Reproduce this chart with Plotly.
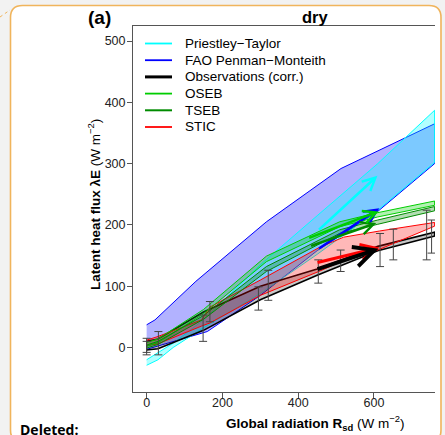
import plotly.graph_objects as go

# ---------------- data ----------------
fao_x = [0, 22, 130, 316, 513, 760]
fao_upper = [37, 45, 108, 205, 292, 365]
fao_lx = [0, 30, 160, 300, 450, 610, 760]
fao_lower = [-3, 2, 26, 85, 158, 222, 300]

pt_x = [0, 30, 70, 150, 300, 450, 610, 760]
pt_upper = [-20, -8, 7, 45, 135, 215, 300, 387]
pt_lower = [-29, -20, 0, 32, 88, 152, 224, 302]

obs_x = [0, 30, 150, 300, 450, 610, 760]
obs_upper = [10, 14, 58, 100, 128, 165, 188]
obs_lower = [-4, -2, 28, 78, 118, 158, 182]

stic_x = [0, 30, 145, 167, 300, 458, 520, 614, 760]
stic_upper = [12, 18, 45, 66, 110, 164, 180, 190, 204]
stic_lower = [3, 6, 35, 40, 85, 125, 142, 160, 198]

oseb_x = [0, 30, 150, 316, 509, 610, 760]
oseb_upper = [8, 14, 62, 149, 205, 220, 239]
oseb_lower = [2, 8, 55, 140, 197, 213, 232]
tseb_upper = [4, 10, 52, 132, 192, 208, 230]
tseb_lower = [-1, 5, 46, 124, 186, 201, 223]

err_x = [0, 0, 31, 149, 167, 295, 321, 453, 512, 616, 651, 739, 752]
err_lo = [-12, -8, -12, 10, 42, 61, 77, 105, 124, 132, 143, 143, 154]
err_hi = [15, 10, 26, 53, 75, 99, 126, 143, 159, 186, 193, 224, 208]

# arrows: (tail x, tail y, head x, head y)
arrow_names = ["Priestley-Taylor", "FAO Penman-Monteith", "TSEB", "OSEB", "STIC", "Observations"]
arrow_tail_x = [451, 451, 430, 425, 447, 447]
arrow_tail_y = [190, 160, 165, 178, 138, 127]
arrow_head_x = [609, 614, 606, 612, 614, 612]
arrow_head_y = [280, 227, 203, 222, 163, 161]

legend_labels = ["Priestley\u2212Taylor", "FAO Penman\u2212Monteith", "Observations (corr.)",
                 "OSEB", "TSEB", "STIC"]
x_ticks = [0, 200, 400, 600]
y_ticks = [0, 100, 200, 300, 400, 500]

# ---------------- styles ----------------
C_PT = "#00ffff"
C_FAO = "#0000ff"
C_OBS = "#000000"
C_OSEB = "#00cd00"
C_TSEB = "#008b00"
C_STIC = "#ff0000"
FONT = "Liberation Sans, Arial, sans-serif"

W, H = 445, 435
ML, MR, MT, MB = 133, 10, 26, 43
PW, PH = W - ML - MR, H - MT - MB


def px(xp):
    return (xp - ML) / PW


def py(yp):
    return (H - MB - yp) / PH


fig = go.Figure()


def band(xu, yu, xl, yl, fill, line, lw=1.0):
    fig.add_trace(go.Scatter(
        x=list(xu) + list(xl)[::-1], y=list(yu) + list(yl)[::-1],
        mode="lines", fill="toself", fillcolor=fill,
        line=dict(color=line, width=lw), showlegend=False, hoverinfo="skip"))


band(fao_x, fao_upper, fao_lx, fao_lower, "rgba(0,0,255,0.30)", C_FAO, 1)
band(pt_x, pt_upper, pt_x, pt_lower, "rgba(0,255,255,0.30)", C_PT, 1)
band(obs_x, obs_upper, obs_x, obs_lower, "rgba(0,0,0,0.22)", C_OBS, 1.6)
band(stic_x, stic_upper, stic_x, stic_lower, "rgba(255,0,0,0.28)", C_STIC, 1)
band(oseb_x, oseb_upper, oseb_x, oseb_lower, "rgba(0,205,0,0.30)", C_OSEB, 1)
band(oseb_x, tseb_upper, oseb_x, tseb_lower, "rgba(0,139,0,0.30)", C_TSEB, 1)

# error bars
fig.add_trace(go.Scatter(
    x=err_x, y=err_lo, mode="markers", marker=dict(size=0.1, color="rgba(0,0,0,0)"),
    error_y=dict(type="data", symmetric=False,
                 array=[h - l for h, l in zip(err_hi, err_lo)],
                 arrayminus=[0] * len(err_lo), color="#444444", thickness=1, width=4),
    showlegend=False, hoverinfo="skip"))

# arrows
arrow_colors = [C_PT, C_FAO, C_TSEB, C_OSEB, C_STIC, C_OBS]
arrow_widths = [2.5, 2.5, 2.5, 2.5, 3, 4]
for tx, ty, hx, hy, c, w in zip(arrow_tail_x, arrow_tail_y, arrow_head_x, arrow_head_y,
                                arrow_colors, arrow_widths):
    fig.add_annotation(x=hx, y=hy, ax=tx, ay=ty, xref="x", yref="y", axref="x", ayref="y",
                       showarrow=True, arrowhead=5, arrowsize=1.0, arrowwidth=w,
                       arrowcolor=c, standoff=0, startstandoff=0, text="")

# legend (drawn manually to match the compact row spacing)
leg_colors = [C_PT, C_FAO, C_OBS, C_OSEB, C_TSEB, C_STIC]
leg_widths = [1.8, 1.8, 3, 1.8, 2, 1.8]
for i, (lab, c, w) in enumerate(zip(legend_labels, leg_colors, leg_widths)):
    yy = 43.5 + i * 16.7
    fig.add_shape(type="line", xref="paper", yref="paper", x0=px(145), x1=px(172),
                  y0=py(yy), y1=py(yy), line=dict(color=c, width=w))
    fig.add_annotation(text=lab, x=px(182.5), y=py(yy), xref="paper", yref="paper",
                       xanchor="left", yanchor="middle", showarrow=False,
                       font=dict(size=13.5, family=FONT, color="black"))

# background card
L, R, T, B = 10.5, 441.0, 5.5, 442.0
r = 12
path = (f"M{px(L + r)},{py(T)} L{px(R - r)},{py(T)} Q{px(R)},{py(T)} {px(R)},{py(T + r)} "
        f"L{px(R)},{py(B - r)} Q{px(R)},{py(B)} {px(R - r)},{py(B)} "
        f"L{px(L + r)},{py(B)} Q{px(L)},{py(B)} {px(L)},{py(B - r)} "
        f"L{px(L)},{py(T + r)} Q{px(L)},{py(T)} {px(L + r)},{py(T)} Z")
fig.add_shape(type="path", path=path, xref="paper", yref="paper", layer="below",
              fillcolor="white", line=dict(color="#f0b45c", width=1.6))
fig.add_shape(type="line", xref="paper", yref="paper", x0=px(0), y0=py(17), x1=px(10), y1=py(10),
              line=dict(color="#f0b45c", width=1, dash="dot"), layer="below")

# texts
fig.add_annotation(text="<b>dry</b>", x=px(315), y=py(17), xref="paper", yref="paper",
                   xanchor="center", yanchor="middle",
                   showarrow=False, font=dict(size=16.5, family=FONT, color="black"))
fig.add_annotation(text="<b>(a)</b>", x=px(99), y=py(18), xref="paper", yref="paper",
                   xanchor="center", yanchor="middle",
                   showarrow=False, font=dict(size=19, family=FONT, color="black"))
fig.add_annotation(text="<b>Latent heat flux \u03bbE</b> (W m<sup>\u22122</sup>)",
                   x=px(94), y=py(205), xref="paper", yref="paper", textangle=-90,
                   xanchor="center", yanchor="middle",
                   showarrow=False, font=dict(size=13.5, family=FONT, color="black"))
fig.add_annotation(text="<b>Global radiation R<sub>sd</sub></b> (W m<sup>\u22122</sup>)",
                   x=px(315), y=py(423), xref="paper", yref="paper",
                   xanchor="center", yanchor="middle",
                   showarrow=False, font=dict(size=13.5, family=FONT, color="black"))
fig.add_annotation(text="<b>Deleted:</b>", x=px(18), y=py(429), xref="paper", yref="paper",
                   xanchor="left", yanchor="middle", showarrow=False,
                   font=dict(size=14, family="Open Sans, sans-serif", color="black"))

fig.update_layout(
    width=W, height=H, margin=dict(l=ML, r=MR, t=MT, b=MB, pad=0),
    paper_bgcolor="#f2f2f2", plot_bgcolor="rgba(0,0,0,0)",
    font=dict(family=FONT, size=12, color="#222222"),
    showlegend=False,
)
fig.update_xaxes(range=[-36, 761], showgrid=False, zeroline=False, showline=True,
                 mirror=True, linecolor="#555555", linewidth=1, ticks="outside", ticklen=5,
                 tickcolor="#555555", tickvals=x_ticks, ticklabelstandoff=-6,
                 tickfont=dict(size=12.5, color="#222"))
fig.update_yaxes(range=[-72.6, 524.5], showgrid=False, zeroline=False, showline=True,
                 linecolor="#555555", linewidth=1, ticks="outside", ticklen=5,
                 tickcolor="#555555", tickvals=y_ticks, ticklabelstandoff=-1,
                 tickfont=dict(size=12.5, color="#222"))

fig.write_html("out.html")
